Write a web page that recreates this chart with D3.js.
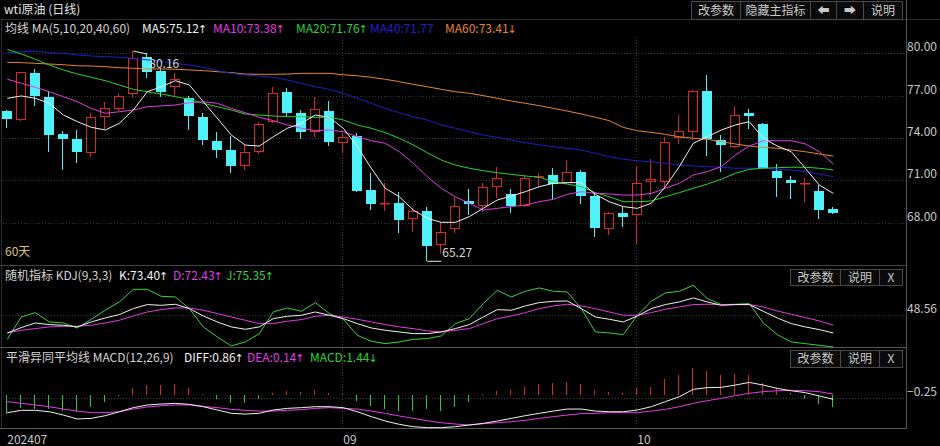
<!DOCTYPE html>
<html><head><meta charset="utf-8">
<script src="https://cdn.jsdelivr.net/npm/d3@7"></script>
<style>
html,body{margin:0;padding:0;background:#000;overflow:hidden;}
svg{display:block;}
text{font-family:"Noto Sans CJK SC","Noto Sans",sans-serif;}
</style></head><body><svg id="c" width="940" height="446"></svg>
<script>
const dates = ["2024-07-30","2024-07-31","2024-08-01","2024-08-02","2024-08-05","2024-08-06","2024-08-07","2024-08-08","2024-08-09","2024-08-12","2024-08-13","2024-08-14","2024-08-15","2024-08-16","2024-08-19","2024-08-20","2024-08-21","2024-08-22","2024-08-23","2024-08-26","2024-08-27","2024-08-28","2024-08-29","2024-08-30","2024-09-02","2024-09-03","2024-09-04","2024-09-05","2024-09-06","2024-09-09","2024-09-10","2024-09-11","2024-09-12","2024-09-13","2024-09-16","2024-09-17","2024-09-18","2024-09-19","2024-09-20","2024-09-23","2024-09-24","2024-09-25","2024-09-26","2024-09-27","2024-09-30","2024-10-01","2024-10-02","2024-10-03","2024-10-04","2024-10-07","2024-10-08","2024-10-09","2024-10-10","2024-10-11","2024-10-14","2024-10-15","2024-10-16","2024-10-17","2024-10-18","2024-10-21"];
const open  = [75.91,75.28,78.58,76.93,74.28,73.93,72.92,75.51,76.03,77.10,79.72,78.75,77.59,76.81,75.47,73.79,73.15,72.02,73.03,75.16,77.28,75.79,74.45,75.91,73.63,74.14,70.32,69.33,69.38,68.24,68.83,66.42,67.54,69.54,69.21,70.55,70.01,69.21,71.22,71.38,70.84,71.57,69.92,67.56,68.71,68.55,70.91,70.92,74.02,74.45,77.33,73.86,73.39,75.79,74.99,71.66,71.03,70.79,70.25,68.97];
const high  = [75.95,78.70,78.87,77.33,74.52,74.57,75.75,76.57,77.17,80.16,80.05,78.94,78.63,76.98,75.75,74.40,74.16,73.51,75.16,77.63,77.52,75.98,76.88,76.62,74.33,74.38,71.50,70.84,70.20,69.02,69.14,68.07,69.84,70.37,70.84,71.97,70.37,71.38,71.54,71.86,72.44,71.74,70.20,68.78,69.14,72.02,72.49,74.10,75.63,77.40,78.46,74.21,76.29,76.06,75.08,72.16,71.31,71.15,70.67,69.14];
const low   = [74.69,75.20,76.29,73.03,71.74,72.25,72.68,74.62,75.93,76.81,78.23,76.88,76.98,74.57,73.51,72.61,71.54,71.74,72.87,75.09,75.47,73.91,74.09,73.43,72.96,70.20,68.90,68.85,67.30,67.37,65.27,65.84,67.30,68.55,68.78,69.73,68.67,69.14,70.55,69.61,70.74,69.31,67.01,67.13,67.68,66.50,69.96,70.55,73.58,73.86,72.75,71.62,73.27,74.62,71.81,69.80,69.68,69.49,68.26,68.60];
const close = [75.35,78.65,77.00,74.21,73.93,73.01,75.47,76.10,76.98,79.65,78.70,77.28,78.16,75.56,73.86,73.15,72.02,72.99,74.97,77.17,75.79,74.45,76.06,73.74,74.10,70.25,69.33,69.42,68.19,68.85,66.35,67.37,69.21,69.33,70.55,71.19,69.21,71.19,71.31,70.74,71.57,69.92,67.61,68.67,68.39,70.79,71.08,73.70,74.50,77.33,73.93,73.51,75.63,75.58,71.86,71.15,70.79,70.84,68.90,68.71];

const ma5  = [76.81,76.98,76.81,76.46,75.63,75.16,74.76,74.57,75.04,75.98,77.28,77.63,78.06,77.76,76.57,75.40,74.21,73.50,73.43,74.09,74.69,75.04,75.63,75.47,74.69,73.39,71.86,70.44,69.84,68.90,68.31,68.03,68.03,68.43,69.02,69.61,69.89,70.20,70.55,70.79,70.84,70.84,70.01,69.49,69.14,69.02,69.38,70.55,71.97,73.63,74.09,74.57,74.92,75.16,73.98,73.43,73.03,71.86,70.67,70.08];
const ma10 = [78.16,77.88,77.59,77.28,76.93,76.57,76.10,75.75,75.86,75.98,76.22,76.27,76.34,76.50,76.57,76.46,76.10,75.79,75.47,75.23,74.92,74.69,74.52,74.57,74.45,74.09,73.81,73.63,73.03,72.21,71.26,70.44,69.84,69.38,68.90,69.02,69.14,69.26,69.49,69.66,70.01,70.20,70.08,70.04,69.96,69.96,70.08,70.44,70.79,71.38,71.62,71.97,72.80,73.43,73.81,73.81,73.81,73.58,73.03,72.16];
const ma20 = [80.28,79.95,79.58,79.17,78.82,78.53,78.30,78.06,77.76,77.45,77.28,77.12,76.93,76.74,76.46,76.22,75.98,75.70,75.63,75.56,75.51,75.51,75.47,75.47,75.28,74.92,74.69,74.38,73.98,73.51,72.96,72.44,72.09,71.86,71.69,71.54,71.43,71.31,71.22,70.91,70.74,70.55,70.13,69.84,69.49,69.49,69.54,69.84,70.13,70.44,70.74,71.08,71.50,71.78,71.86,71.90,71.93,71.93,71.86,71.74];
const ma40 = [80.04,80.11,80.16,80.04,80.00,79.88,79.81,79.76,79.72,79.65,79.53,79.41,79.29,79.17,79.01,78.77,78.58,78.46,78.39,78.30,78.11,77.88,77.63,77.45,77.17,76.81,76.46,76.10,75.79,75.51,75.28,74.92,74.69,74.45,74.21,74.05,73.86,73.67,73.51,73.39,73.27,73.15,72.92,72.68,72.49,72.39,72.32,72.21,72.09,72.02,71.97,71.93,71.86,71.86,71.86,71.78,71.74,71.62,71.45,71.26];
const ma60 = [79.36,79.34,79.29,79.24,79.19,79.12,79.10,79.05,78.98,78.94,78.89,78.89,78.87,78.82,78.77,78.70,78.63,78.53,78.51,78.51,78.53,78.58,78.58,78.58,78.48,78.41,78.30,78.16,77.99,77.80,77.63,77.45,77.28,77.17,77.00,76.81,76.62,76.46,76.29,76.10,75.91,75.70,75.47,75.23,74.75,74.52,74.40,74.26,74.09,73.98,73.91,73.74,73.58,73.43,73.34,73.27,73.15,73.03,72.87,72.73];

const kdjK = [16.4,26.1,34.6,31.6,30.4,27.4,36.4,43.7,49.8,60.7,68.0,66.7,68.6,60.7,47.3,36.4,27.4,23.1,27.4,42.5,46.7,48.6,54.6,48.6,42.5,33.4,25.5,21.3,18.3,15.2,15.2,18.3,24.3,31.6,45.5,58.9,57.7,65.5,71.6,74.0,74.6,60.7,45.5,41.3,36.4,47.3,60.7,68.0,72.8,80.1,72.8,66.7,68.0,68.0,55.8,43.7,33.4,27.4,22.5,16.4];
const kdjD = [16.4,21.3,24.3,27.4,28.6,28.6,30.4,34.6,39.5,47.3,54.6,58.9,61.9,61.9,57.7,51.6,45.5,39.5,33.4,33.4,37.7,40.7,46.7,48.6,45.5,41.3,36.4,31.6,27.4,24.3,20.1,18.3,21.3,24.3,33.4,42.5,47.3,53.4,60.7,65.5,68.6,65.5,60.7,54.6,48.6,48.6,53.4,59.5,63.7,68.0,68.6,68.0,68.0,68.0,63.7,56.4,50.4,44.3,38.3,30.4];
const kdjJ = [4.9,45.5,53.4,36.4,34.6,25.5,41.3,57.7,72.8,95.8,95.8,83.1,81.9,60.7,27.4,9.2,-7.2,0.1,15.2,54.6,61.9,55.8,71.6,51.6,41.3,12.2,1.3,-3.0,0.1,4.9,6.2,11.0,33.4,42.5,69.8,94.0,81.9,92.2,98.3,92.2,91.0,60.7,18.3,16.4,13.4,48.6,74.0,89.2,92.2,103.1,78.9,68.0,68.6,69.8,34.6,13.4,0.1,-3.0,-6.0,-9.0];

const macdHist = [-1.78,-1.18,-1.31,-1.31,-1.46,-1.62,-1.15,-0.69,-0.06,0.69,0.93,0.93,1.03,0.62,0.06,-0.37,-0.75,-0.75,-0.37,0.22,0.37,0.31,0.47,0.16,0.09,-0.53,-1.00,-1.31,-1.46,-1.46,-1.31,-1.46,-1.15,-0.62,0.05,0.40,0.47,0.78,1.03,1.15,1.25,1.03,0.47,0.31,0.22,0.62,0.78,1.46,1.87,2.49,2.24,1.87,1.96,1.87,1.09,0.62,0.16,-0.37,-0.87,-1.09];
const diff = [-1.65,-1.43,-1.43,-1.56,-1.87,-2.24,-2.18,-1.93,-1.56,-1.18,-0.93,-0.84,-0.78,-0.87,-1.09,-1.40,-1.71,-1.78,-1.71,-1.40,-1.25,-1.18,-1.09,-1.09,-1.18,-1.56,-2.02,-2.43,-2.74,-2.96,-3.05,-3.05,-2.96,-2.80,-2.65,-2.43,-2.18,-1.93,-1.71,-1.50,-1.31,-1.31,-1.50,-1.56,-1.56,-1.40,-1.09,-0.62,-0.16,0.53,0.69,0.72,0.93,1.18,0.93,0.62,0.40,0.22,-0.09,-0.40];
const dea = [-0.62,-0.78,-0.93,-1.09,-1.31,-1.50,-1.65,-1.65,-1.56,-1.31,-1.12,-1.00,-0.93,-0.93,-1.06,-1.18,-1.34,-1.43,-1.50,-1.50,-1.43,-1.37,-1.25,-1.18,-1.25,-1.31,-1.50,-1.71,-1.96,-2.18,-2.40,-2.59,-2.71,-2.80,-2.68,-2.59,-2.49,-2.37,-2.18,-2.02,-1.87,-1.74,-1.71,-1.65,-1.65,-1.65,-1.50,-1.34,-1.09,-0.78,-0.53,-0.31,-0.06,0.16,0.31,0.40,0.44,0.40,0.31,0.09];

const priceTicks = [68, 71, 74, 77, 80];
const kdjTicks = [48.56];
const macdTicks = [-0.25];
const axisLabelDates = ["2024-07-30", "2024-09-02", "2024-10-01"];
const axisLabelTexts = ["202407", "09", "10"];
const monthStartDates = ["2024-09-02", "2024-10-01"];

const C = {up:"#d42a2a", down:"#4ff2fa", ma5:"#f2f2f2", ma10:"#e33de3", ma20:"#2ed22e", ma40:"#2020cc", ma60:"#e8862e",
           grid:"#3a3a3a", txt:"#c8c8c8"};

const svg = d3.select("#c");
const FONT = '"Noto Sans CJK SC","Noto Sans",sans-serif';
const FS = 12;

const x = d3.scaleBand().domain(dates).range([0.3, 840.3]).paddingInner(4/14).paddingOuter(2/14);
const bw = x.bandwidth();
const cx = d => x(d) + bw / 2;
const py = d3.scaleLinear().domain([65, 80]).range([265.1, 53.3]);
const ky = d3.scaleLinear().domain([-9.5, 104]).range([347.2, 284.8]);
const my = d3.scaleLinear().domain([-3.1, 2.6]).range([428.2, 367.2]);

// frame
const frame = svg.append("g").attr("shape-rendering","crispEdges");
frame.append("line").attr("x1",0).attr("x2",940).attr("y1",19.5).attr("y2",19.5).attr("stroke","#2c2c2c");
frame.append("line").attr("x1",1.5).attr("x2",1.5).attr("y1",19).attr("y2",429).attr("stroke","#303030");
frame.append("line").attr("x1",0).attr("x2",906).attr("y1",265.5).attr("y2",265.5).attr("stroke","#444");
frame.append("line").attr("x1",0).attr("x2",906).attr("y1",347.5).attr("y2",347.5).attr("stroke","#555");
frame.append("line").attr("x1",0).attr("x2",906).attr("y1",428.5).attr("y2",428.5).attr("stroke","#5a5a5a");
frame.append("line").attr("x1",906.5).attr("x2",906.5).attr("y1",0).attr("y2",429).attr("stroke","#555");

// gridlines
const grid = svg.append("g").attr("stroke", C.grid).attr("stroke-dasharray","1,2").attr("shape-rendering","crispEdges");
priceTicks.forEach(t => grid.append("line").attr("x1",3).attr("x2",906).attr("y1",Math.round(py(t))+0.5).attr("y2",Math.round(py(t))+0.5));
kdjTicks.forEach(t => grid.append("line").attr("x1",3).attr("x2",906).attr("y1",Math.round(ky(t))+0.5).attr("y2",Math.round(ky(t))+0.5));
macdTicks.forEach(t => grid.append("line").attr("x1",3).attr("x2",906).attr("y1",Math.round(my(t))+0.5).attr("y2",Math.round(my(t))+0.5));
monthStartDates.forEach(d => {
  const xx = Math.round(cx(d)) - 0.5;
  [[37,265],[266,347],[348,428]].forEach(r => grid.append("line").attr("x1",xx).attr("x2",xx).attr("y1",r[0]).attr("y2",r[1]));
});

// candles
const candles = svg.append("g").selectAll("g").data(dates).join("g");
candles.each(function(d, i) {
  const g = d3.select(this);
  const left = Math.round(x(d));
  const wx = left + 4.5;
  const isUp = close[i] >= open[i];
  const col = isUp ? C.up : C.down;
  const top = Math.round(py(Math.max(open[i], close[i])));
  const bot = Math.round(py(Math.min(open[i], close[i])));
  const hy = Math.round(py(high[i])), ly = Math.round(py(low[i]));
  if (isUp) {
    g.append("line").attr("x1",wx).attr("x2",wx).attr("y1",hy).attr("y2",top).attr("stroke",col);
    g.append("line").attr("x1",wx).attr("x2",wx).attr("y1",Math.max(bot,top+1)).attr("y2",ly).attr("stroke",col);
    g.append("rect").attr("x",left+0.5).attr("y",top+0.5).attr("width",bw-1).attr("height",Math.max(bot-top-1,0.5))
      .attr("fill","none").attr("stroke",col);
  } else {
    g.append("line").attr("x1",wx).attr("x2",wx).attr("y1",hy).attr("y2",ly).attr("stroke",col);
    g.append("rect").attr("x",left).attr("y",top).attr("width",bw).attr("height",Math.max(bot-top,1)).attr("fill",col);
  }
});

// MA lines
const maLine = arr => d3.line().x((d,i) => cx(dates[i])).y(v => py(v))(arr);
[[ma60,C.ma60],[ma40,C.ma40],[ma20,C.ma20],[ma10,C.ma10],[ma5,C.ma5]].forEach(([arr,col]) =>
  svg.append("path").attr("d", maLine(arr)).attr("fill","none").attr("stroke",col).attr("stroke-width",1));

// max / min markers
const iMax = d3.maxIndex(high), iMin = d3.minIndex(low);
const xmax = cx(dates[iMax]), ymax = py(high[iMax]);
svg.append("path").attr("d", `M${xmax},${ymax}L${xmax+14},${ymax+3}`).attr("stroke","#e8e8e8").attr("fill","none");
svg.append("text").attr("x", xmax+16).attr("y", ymax+17).attr("fill","#d8d8d8").attr("font-size",FS).text(high[iMax].toFixed(2));
const xmin = cx(dates[iMin]), ymin = py(low[iMin]);
svg.append("path").attr("d", `M${xmin},${ymin}L${xmin+14},${ymin}`).attr("stroke","#e8e8e8").attr("fill","none");
svg.append("text").attr("x", xmin+15).attr("y", ymin-4.5).attr("fill","#d8d8d8").attr("font-size",FS).text(low[iMin].toFixed(2));

// KDJ lines
const kLine = arr => d3.line().x((d,i) => cx(dates[i])).y(v => ky(v))(arr);
[[kdjJ,"#3bd43b"],[kdjD,C.ma10],[kdjK,"#f2f2f2"]].forEach(([arr,col]) =>
  svg.append("path").attr("d", kLine(arr)).attr("fill","none").attr("stroke",col).attr("stroke-width",1));

// MACD histogram + lines
svg.append("g").attr("shape-rendering","crispEdges").selectAll("line").data(macdHist).join("line")
  .attr("x1",(v,i) => Math.round(x(dates[i]))+4.5).attr("x2",(v,i) => Math.round(x(dates[i]))+4.5)
  .attr("y1", my(0)).attr("y2", v => my(v))
  .attr("stroke", v => v >= 0 ? C.up : "#33c933");
const mLine = arr => d3.line().x((d,i) => cx(dates[i])).y(v => my(v))(arr);
[[dea,C.ma10],[diff,"#f2f2f2"]].forEach(([arr,col]) =>
  svg.append("path").attr("d", mLine(arr)).attr("fill","none").attr("stroke",col).attr("stroke-width",1));

// right axes
function rAxis(scale, ticks, fmt) {
  const a = svg.append("g").attr("transform","translate(906,0)")
    .call(d3.axisRight(scale).tickValues(ticks).tickFormat(fmt).tickSize(0).tickPadding(1));
  a.select(".domain").remove();
  a.attr("font-family", FONT).attr("font-size", FS);
  a.selectAll("text").attr("y", -6.5).attr("fill", C.txt);
}
rAxis(py, priceTicks, d3.format(".2f"));
rAxis(ky, kdjTicks, d3.format(".2f"));
rAxis(my, macdTicks, d3.format(".2f"));

// bottom axis
const bx = svg.append("g").attr("transform","translate(0,430)")
  .call(d3.axisBottom(x).tickValues(axisLabelDates).tickFormat((d,i) => axisLabelTexts[i]).tickSize(0).tickPadding(5));
bx.select(".domain").remove();
bx.attr("font-family", FONT).attr("font-size", FS);
bx.selectAll("text").attr("text-anchor","start").attr("fill", C.txt);

// texts
function txt(xp, yp, s, col, arrow) {
  const t = svg.append("text").attr("x",xp).attr("y",yp).attr("fill",col).attr("font-size",FS).text(s);
  if (arrow) {
    const w = t.node().getComputedTextLength();
    svg.append("text").attr("x", xp + w + 3.5).attr("y", yp).attr("text-anchor","middle")
      .attr("fill", col).attr("font-size", 11).style("font-family","'DejaVu Sans',sans-serif").text(arrow);
  }
  return t;
}
txt(4, 14, "wti原油 (日线)", "#e4e4e4");
txt(5, 32.5, "均线 MA(5,10,20,40,60)", "#d4d4d4");
txt(142, 32.5, "MA5:75.12", C.ma5, "↑");
txt(213, 32.5, "MA10:73.38", C.ma10, "↑");
txt(296, 32.5, "MA20:71.76", C.ma20, "↑");
txt(370, 32.5, "MA40:71.77", C.ma40);
txt(445, 32.5, "MA60:73.41", C.ma60, "↓");
txt(5, 256, "60天", "#d8c27a");

txt(5, 279.5, "随机指标 KDJ(9,3,3)", "#d4d4d4");
txt(119, 279.5, "K:73.40", "#f2f2f2", "↑");
txt(173, 279.5, "D:72.43", C.ma10, "↑");
txt(226, 279.5, "J:75.35", "#3bd43b", "↑");

txt(6, 362, "平滑异同平均线 MACD(12,26,9)", "#d4d4d4");
txt(184, 362, "DIFF:0.86", "#f2f2f2", "↑");
txt(247, 362, "DEA:0.14", C.ma10, "↑");
txt(310, 362, "MACD:1.44", "#2ed22e", "↓");

// buttons
function btn(x0, x1, y0, y1, label, opts) {
  svg.append("rect").attr("x",x0+0.5).attr("y",y0+0.5).attr("width",x1-x0).attr("height",y1-y0)
    .attr("fill","#0b0b0b").attr("stroke","#4a4a4a").attr("shape-rendering","crispEdges");
  svg.append("text").attr("x",(x0+x1)/2+0.5).attr("y",(y0+y1)/2+0.5).attr("dy","0.35em")
    .attr("text-anchor","middle").attr("fill","#c8c8c8").attr("font-size",(opts&&opts.size)||FS).text(label);
}
btn(691, 740, 1, 19, "改参数");
btn(740, 810, 1, 19, "隐藏主指标");
btn(810, 836, 1, 19, "⬅", {size:12});
btn(836, 863, 1, 19, "➡", {size:12});
btn(863, 902, 1, 19, "说明");
[[269, 285],[350, 367]].forEach(([a,b]) => {
  btn(790, 840, a, b, "改参数");
  btn(840, 879, a, b, "说明");
  btn(879, 902, a, b, "X");
});
</script></body></html>
